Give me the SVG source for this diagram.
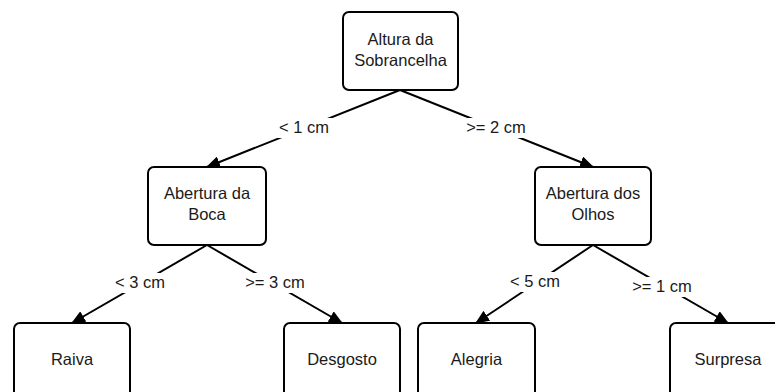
<svg xmlns="http://www.w3.org/2000/svg" width="775" height="392" viewBox="0 0 775 392">
<style>
.box{fill:#fff;stroke:#000;stroke-width:2}
.t{font-family:"Liberation Sans",Arial,sans-serif;font-size:16.5px;fill:#1a1a1a;text-anchor:middle}
.e{stroke:#000;stroke-width:2;fill:none;marker-end:url(#ah)}
.lb{fill:#fff}
</style>
<defs>
<marker id="ah" markerUnits="userSpaceOnUse" markerWidth="14" markerHeight="12" viewBox="0 0 14 12" refX="13" refY="6" orient="auto">
<path d="M0,0 L14,6 L0,12 z" fill="#000"/>
</marker>
</defs>
<rect width="775" height="392" fill="#fff"/>
<g id="connectors">
<line class="e" x1="400" y1="90" x2="207" y2="167"/>
<line class="e" x1="400" y1="90" x2="593" y2="167"/>
<line class="e" x1="207" y1="245" x2="72" y2="323"/>
<line class="e" x1="207" y1="245" x2="342" y2="323"/>
<line class="e" x1="593" y1="245" x2="476" y2="323"/>
<line class="e" x1="593" y1="245" x2="728" y2="323"/>
<rect class="lb" x="275" y="118" width="58" height="20"/>
<text class="t" x="304" y="133">&lt; 1 cm</text>
<rect class="lb" x="462" y="118" width="68" height="20"/>
<text class="t" x="496" y="133">&gt;= 2 cm</text>
<rect class="lb" x="111" y="273" width="58" height="20"/>
<text class="t" x="140" y="288">&lt; 3 cm</text>
<rect class="lb" x="241" y="273" width="68" height="20"/>
<text class="t" x="275" y="288">&gt;= 3 cm</text>
<rect class="lb" x="506" y="272" width="58" height="20"/>
<text class="t" x="535" y="287">&lt; 5 cm</text>
<rect class="lb" x="628" y="277" width="68" height="20"/>
<text class="t" x="662" y="292">&gt;= 1 cm</text>
</g>
<g id="root">
<rect class="box" x="343" y="12" width="115" height="78" rx="6"/>
<text class="t" x="400.5" y="45">Altura da</text>
<text class="t" x="400.5" y="65.5">Sobrancelha</text>
</g>
<g id="boca">
<rect class="box" x="148" y="167" width="118" height="78" rx="6"/>
<text class="t" x="207" y="199">Abertura da</text>
<text class="t" x="207" y="220">Boca</text>
</g>
<g id="olhos">
<rect class="box" x="535" y="167" width="116" height="78" rx="6"/>
<text class="t" x="593" y="199">Abertura dos</text>
<text class="t" x="593" y="220">Olhos</text>
</g>
<g id="raiva">
<rect class="box" x="14" y="323" width="116" height="78" rx="6"/>
<text class="t" x="72" y="365">Raiva</text>
</g>
<g id="desgosto">
<rect class="box" x="284" y="323" width="116" height="78" rx="6"/>
<text class="t" x="342" y="365">Desgosto</text>
</g>
<g id="alegria">
<rect class="box" x="418" y="323" width="117" height="78" rx="6"/>
<text class="t" x="476.5" y="365">Alegria</text>
</g>
<g id="surpresa">
<rect class="box" x="670" y="323" width="116" height="78" rx="6"/>
<text class="t" x="728" y="365">Surpresa</text>
</g>
</svg>
